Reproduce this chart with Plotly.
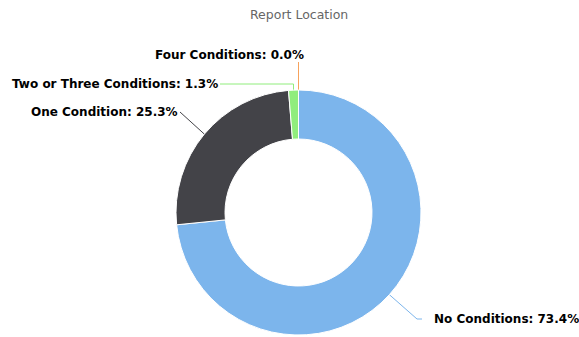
import math
import plotly.graph_objects as go

# Share of reports by number of conditions (percent)
labels = ["No Conditions", "One Condition", "Two or Three Conditions", "Four Conditions"]
shares = [73.4, 25.3, 1.3, 0.0]
colors = ["#7cb5ec", "#434348", "#90ed7d", "#f7a35c"]

W, H = 579, 337
# Pie placement in page pixels
CX, CY, R = 298.5, 212.5, 122.5
HOLE = 0.6

# Where each data label sits: anchor point (end of the connector), text side, elbow rule
label_layout = {
    "No Conditions": dict(end=(422, 319), side="left", elbow=(417, 319)),
    "One Condition": dict(end=(180, 112), side="right", elbow=(182, 113)),
    "Two or Three Conditions": dict(end=(220, 84), side="right", elbow="above"),
    "Four Conditions": dict(end=None, side="right", elbow="above", top=62, text_at=(306, 55)),
}

fig = go.Figure()
fig.add_trace(go.Pie(
    labels=labels,
    values=shares,
    sort=False,
    direction="clockwise",
    rotation=0,
    hole=HOLE,
    marker=dict(colors=colors, line=dict(color="#ffffff", width=1)),
    textinfo="none",
    hoverinfo="label+percent",
    showlegend=False,
    domain=dict(x=[(CX - R) / W, (CX + R) / W], y=[1 - (CY + R) / H, 1 - (CY - R) / H]),
))

total = sum(shares)
cum = 0.0
annotations = []
for name, val, col in zip(labels, shares, colors):
    start = cum / total * 360
    cum += val
    end = cum / total * 360
    mid = math.radians((start + end) / 2)
    px = CX + R * math.sin(mid)
    py = CY - R * math.cos(mid)
    lay = label_layout[name]
    if lay["elbow"] == "above":
        if lay["end"] is None:
            ex, ey = px, lay["top"]
            pts = [(px, py), (ex, ey)]
            tx, ty = lay["text_at"]
        else:
            ex, ey = lay["end"]
            pts = [(px, py), (px, ey), (ex, ey)]
            tx, ty = ex, ey
    else:
        ex, ey = lay["end"]
        pts = [(px, py), lay["elbow"], (ex, ey)]
        tx, ty = ex, ey
    fig.add_trace(go.Scatter(
        x=[p[0] for p in pts], y=[p[1] for p in pts],
        mode="lines", line=dict(color=col, width=1),
        hoverinfo="skip", showlegend=False,
        xaxis="x", yaxis="y",
    ))
    if lay["side"] == "left":
        ax_x, anchor = tx + 10, "left"
    else:
        ax_x, anchor = tx, "right"
    annotations.append(dict(
        x=ax_x, y=ty, xref="x", yref="y",
        text=f"<b>{name}: {val:.1f}%</b>",
        showarrow=False, xanchor=anchor, yanchor="middle",
        font=dict(family="DejaVu Sans", size=12, color="#000000"),
    ))

annotations.append(dict(
    x=299, y=14, xref="x", yref="y", text="Report Location",
    showarrow=False, xanchor="center", yanchor="middle",
    font=dict(family="DejaVu Sans", size=12.5, color="#666666"),
))

fig.update_layout(
    width=W, height=H,
    margin=dict(l=0, r=0, t=0, b=0),
    paper_bgcolor="#ffffff",
    plot_bgcolor="rgba(0,0,0,0)",
    xaxis=dict(range=[0, W], visible=False, fixedrange=True),
    yaxis=dict(range=[H, 0], visible=False, fixedrange=True),
    annotations=annotations,
)

fig.write_html("out.html")
